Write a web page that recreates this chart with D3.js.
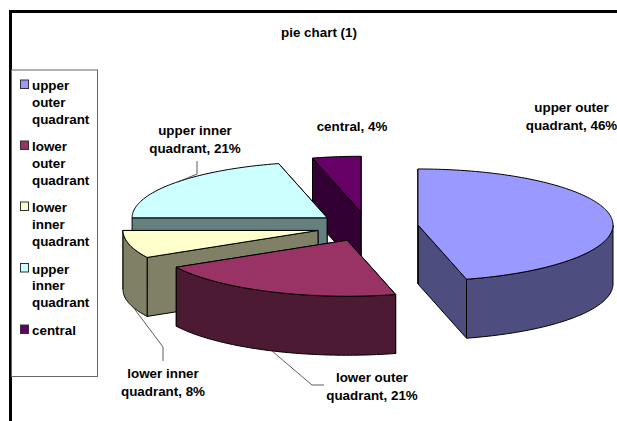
<!DOCTYPE html>
<html>
<head>
<meta charset="utf-8">
<script src="https://cdnjs.cloudflare.com/ajax/libs/d3/7.8.5/d3.min.js"></script>
<style>
html, body { margin: 0; padding: 0; background: #fff; overflow: hidden; }
svg { display: block; }
text { font-family: "Liberation Sans", Arial, sans-serif; font-weight: bold; fill: #000; }
</style>
</head>
<body>
<svg id="chart" width="617" height="421"></svg>
<script>
// Breast tumour location shares, clockwise from twelve o'clock.
const categories = ["upper outer quadrant", "lower outer quadrant", "lower inner quadrant", "upper inner quadrant", "central"];
const values = [46, 21, 8, 21, 4];
const topColors = ["#9999FF", "#993366", "#FFFFCC", "#CCFFFF", "#660066"];
const wallColors = ["#4D4D80", "#4D1A33", "#808066", "#668080", "#330033"];
const titleText = "pie chart (1)";

// Wrapped text for the legend and the data labels.
const legendLines = [["upper", "outer", "quadrant"], ["lower", "outer", "quadrant"], ["lower", "inner", "quadrant"], ["upper", "inner", "quadrant"], ["central"]];
const legendRows = [85, 146, 207, 268.5, 330];
const labelNames = [["upper outer"], ["lower outer"], ["lower inner"], ["upper inner"], []];
const labelTails = ["quadrant", "quadrant", "quadrant", "quadrant", "central"];
const labelAnchors = [[571.5, 112], [372, 382], [163, 378], [195, 135], [352, 131]];
const leaders = [null, [[272, 351], [312, 385], [324, 385]], [[133, 307], [163, 347], [163, 361]], [[178, 182], [197, 174], [197, 161]], null];
const fontSize = 13.4;

const svg = d3.select("#chart");

// Projected pie: an ellipse for the top face, extruded straight down.
const center = { x: 367.4, y: 226.8 };
const rx = 195, ry = 56, depth = 59, explode = 0.2615;
const project = (c, a, r = 1, drop = 0) => [c.x + rx * r * Math.sin(a), c.y - ry * r * Math.cos(a) + drop];

const slices = d3.pie().sort(null).startAngle(0).endAngle(2 * Math.PI)(values);
const line = d3.line();

function rim(c, a0, a1, drop) {
  const n = Math.max(2, Math.ceil((a1 - a0) / 0.02));
  return d3.range(n + 1).map(i => project(c, a0 + (a1 - a0) * i / n, 1, drop));
}

// Painter's order: back slices first, the large slice last.
const order = [4, 3, 2, 1, 0];
const faces = svg.append("g").attr("stroke", "#000").attr("stroke-width", 1).attr("stroke-linejoin", "round");

order.forEach(i => {
  const s = slices[i];
  const mid = (s.startAngle + s.endAngle) / 2;
  const c = { x: center.x + explode * rx * Math.sin(mid), y: center.y - explode * ry * Math.cos(mid) };
  const g = faces.append("g").attr("class", "slice");
  const radial = a => [project(c, a, 0), project(c, a), project(c, a, 1, depth), project(c, a, 0, depth)];

  // Cut faces, end edge then start edge.
  [s.endAngle, s.startAngle].forEach(a => {
    g.append("path").attr("d", line(radial(a)) + "Z").attr("fill", wallColors[i]);
  });

  // Outer wall, only along the front half of the ellipse.
  const a0 = Math.max(s.startAngle, Math.PI / 2), a1 = Math.min(s.endAngle, 3 * Math.PI / 2);
  if (a1 > a0) {
    const wall = rim(c, a0, a1, 0).concat(rim(c, a0, a1, depth).reverse());
    g.append("path").attr("d", line(wall) + "Z").attr("fill", wallColors[i]);
  }

  // Top face.
  const top = [project(c, 0, 0)].concat(rim(c, s.startAngle, s.endAngle, 0));
  g.append("path").attr("d", line(top) + "Z").attr("fill", topColors[i]);
});

// Leader lines from the labels to their slices.
leaders.forEach(pts => {
  if (pts) svg.append("path").attr("d", line(pts)).attr("fill", "none").attr("stroke", "#333").attr("stroke-width", 0.8);
});

// Data labels.
values.forEach((v, i) => {
  const [x, y] = labelAnchors[i];
  const t = svg.append("text").attr("x", x).attr("y", y).attr("text-anchor", "middle").attr("font-size", fontSize);
  labelNames[i].forEach(n => t.append("tspan").attr("x", x).text(n));
  t.append("tspan").attr("x", x).attr("dy", labelNames[i].length ? 18 : 0).text(`${labelTails[i]}, ${v}%`);
});

// Chart frame: heavy top and left rules only.
svg.append("rect").attr("x", 9).attr("y", 10).attr("width", 608).attr("height", 3).attr("fill", "#000");
svg.append("rect").attr("x", 9).attr("y", 10).attr("width", 3).attr("height", 411).attr("fill", "#000");

// Title.
svg.append("text").attr("x", 319).attr("y", 37).attr("text-anchor", "middle").attr("font-size", fontSize).text(titleText);

// Legend.
const legend = svg.append("g");
legend.append("rect").attr("x", 11.5).attr("y", 70).attr("width", 86).attr("height", 306.5)
  .attr("fill", "#fff").attr("stroke", "#666").attr("stroke-width", 1);
categories.forEach((name, i) => {
  const y = legendRows[i];
  legend.append("rect").attr("x", 20.5).attr("y", y - 5).attr("width", 8).attr("height", 8.5)
    .attr("fill", topColors[i]).attr("stroke", "#333").attr("stroke-width", 1);
  legendLines[i].forEach((ln, j) => {
    legend.append("text").attr("x", 32).attr("y", y + 5 + j * 16.8).attr("font-size", fontSize).text(ln);
  });
});
</script>
</body>
</html>
